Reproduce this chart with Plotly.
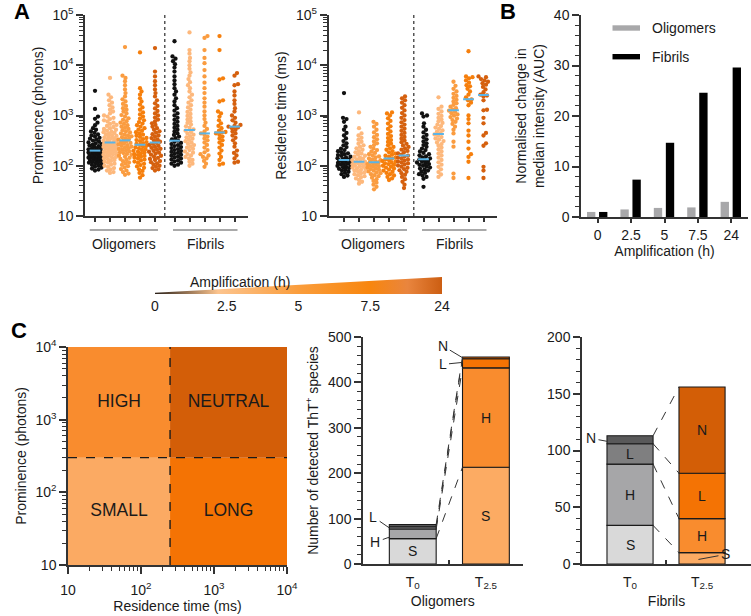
import numpy as np
import plotly.graph_objects as go

W, H = 751, 616
FONT = "Liberation Sans, Arial, sans-serif"

# ---------------- DATA ----------------
amp_labels = ["0", "2.5", "5", "7.5", "24"]
amp_colors = ["#111111", "#fdb87c", "#fa9c40", "#f67f0c", "#d5600e"]
group_names = ["Oligomers", "Fibrils"]

# Panel A, prominence (photons): oligomers 0..24 h, then fibrils 0..24 h
prom_o0 = [3100, 1350, 950, 860, 720, 640, 560, 520, 480, 450, 420, 400, 380, 360, 345, 330, 315, 300, 290, 280, 270, 260, 252, 245, 238, 230, 224, 218, 212, 206, 200, 196, 192, 188, 184, 180, 176, 172, 168, 164, 160, 156, 152, 148, 145, 142, 139, 136, 133, 130, 127, 124, 121, 118, 115, 112, 108, 104, 100, 96, 92, 88, 84, 80]
prom_o1 = [5600, 2600, 2300, 2000, 1800, 1600, 1450, 1300, 1200, 1100, 1000, 950, 900, 850, 800, 760, 720, 680, 650, 620, 590, 560, 540, 520, 500, 480, 465, 450, 435, 420, 405, 392, 380, 368, 356, 345, 335, 325, 315, 305, 297, 290, 283, 276, 269, 262, 255, 249, 243, 237, 231, 225, 220, 215, 210, 205, 200, 195, 190, 185, 180, 175, 170, 165, 160, 155, 150, 145, 140, 135, 130, 125, 120, 115, 110, 105, 100, 95, 90, 85, 80, 75, 72]
prom_o2 = [23000, 6200, 5600, 4800, 4000, 3300, 2800, 2400, 2100, 1900, 1700, 1550, 1400, 1300, 1200, 1100, 1020, 950, 880, 820, 770, 720, 680, 640, 600, 570, 540, 510, 485, 460, 440, 420, 400, 385, 370, 355, 342, 330, 318, 306, 295, 285, 275, 266, 257, 248, 240, 232, 224, 216, 208, 200, 193, 186, 179, 172, 165, 158, 151, 144, 137, 130, 123, 116, 110, 104, 98, 92, 86, 80, 75, 70, 66]
prom_o3 = [18000, 3500, 3000, 2600, 2200, 1900, 1650, 1450, 1300, 1150, 1050, 950, 870, 800, 740, 690, 640, 600, 560, 525, 495, 465, 440, 415, 395, 375, 357, 340, 325, 310, 296, 283, 271, 260, 250, 240, 231, 222, 214, 206, 198, 191, 184, 177, 170, 163, 157, 151, 145, 139, 133, 127, 121, 115, 109, 103, 97, 91, 85, 79, 72, 65, 58]
prom_o4 = [22000, 7500, 6000, 4800, 4000, 3300, 2800, 2400, 2000, 1750, 1550, 1380, 1230, 1100, 1000, 910, 830, 760, 700, 650, 600, 560, 520, 485, 455, 425, 400, 378, 356, 336, 318, 300, 285, 272, 260, 248, 237, 227, 217, 208, 199, 190, 182, 174, 166, 158, 151, 144, 137, 130, 124, 118, 112, 106, 100, 95, 90, 85, 80]
prom_f0 = [30000, 15000, 13500, 12000, 10500, 9000, 7500, 6000, 5000, 4200, 3500, 3000, 2600, 2200, 1900, 1600, 1400, 1250, 1100, 1000, 900, 820, 750, 680, 620, 570, 520, 480, 440, 410, 380, 355, 335, 315, 300, 285, 270, 258, 246, 235, 225, 215, 205, 196, 188, 180, 172, 165, 158, 151, 145, 139, 133, 127, 121, 115, 110, 105, 100]
prom_f1 = [45000, 20000, 17000, 14000, 12000, 10000, 8500, 7200, 6200, 5300, 4600, 4000, 3500, 3000, 2600, 2300, 2000, 1800, 1600, 1450, 1300, 1180, 1070, 980, 900, 830, 770, 710, 660, 610, 570, 530, 500, 470, 440, 415, 390, 368, 346, 326, 308, 290, 273, 258, 244, 230, 217, 205, 193, 182, 171, 160, 150, 140, 130, 120, 110, 100]
prom_f2 = [38000, 35000, 20000, 14000, 11000, 8000, 6000, 4500, 3500, 2800, 2200, 1800, 1500, 1200, 1000, 850, 720, 620, 540, 480, 440, 410, 380, 350, 320, 290, 260, 230, 205, 185, 170, 160, 150, 140, 125, 110, 95]
prom_f3 = [38000, 20000, 5500, 5200, 2000, 1900, 1200, 1100, 950, 800, 700, 620, 560, 500, 470, 460, 440, 410, 380, 350, 320, 290, 260, 230, 200, 175, 150, 130, 110, 105]
prom_f4 = [7000, 6200, 4200, 4000, 3000, 2500, 2000, 1700, 1400, 1200, 1000, 900, 800, 720, 650, 620, 600, 580, 560, 520, 480, 440, 400, 360, 320, 280, 240, 200, 180, 160, 140, 120, 115]
prom_medians = [200, 290, 320, 262, 290, 315, 515, 440, 460, 600]

# Panel A, residence time (ms)
res_o0 = [2800, 900, 850, 750, 600, 520, 450, 400, 350, 310, 280, 255, 235, 218, 205, 195, 185, 177, 170, 163, 157, 151, 146, 141, 136, 132, 128, 124, 120, 117, 114, 111, 108, 105, 102, 99, 96, 93, 90, 87, 84, 80, 76, 72, 68, 64, 60]
res_o1 = [1150, 560, 440, 400, 360, 330, 300, 275, 255, 237, 222, 208, 196, 185, 175, 166, 158, 151, 145, 139, 134, 129, 125, 121, 117, 113, 110, 107, 104, 101, 98, 95, 92, 89, 86, 83, 80, 77, 74, 71, 68, 65, 62, 59, 56, 52, 48, 44]
res_o2 = [750, 680, 600, 520, 460, 410, 370, 335, 305, 280, 258, 238, 220, 205, 192, 180, 170, 161, 153, 146, 140, 134, 129, 124, 120, 116, 112, 108, 104, 101, 98, 95, 92, 89, 86, 83, 80, 77, 74, 71, 68, 65, 62, 58, 54, 50, 46, 42, 38, 34]
res_o3 = [1150, 1100, 1000, 880, 780, 690, 610, 540, 480, 430, 390, 355, 325, 298, 275, 255, 237, 222, 208, 196, 185, 175, 166, 158, 151, 145, 139, 134, 129, 124, 120, 116, 112, 108, 104, 100, 96, 92, 88, 84, 80, 76, 72, 68, 64, 60, 56, 52]
res_o4 = [2400, 2200, 2000, 1800, 1600, 1420, 1260, 1120, 1000, 900, 810, 730, 660, 600, 545, 495, 450, 410, 375, 345, 318, 294, 273, 254, 237, 222, 209, 197, 186, 176, 167, 159, 152, 145, 139, 133, 127, 121, 116, 111, 106, 101, 96, 91, 86, 81, 76, 71, 66, 60, 54, 48, 42, 36]
res_f0 = [1100, 1000, 950, 700, 600, 520, 460, 410, 370, 335, 305, 280, 258, 238, 220, 205, 192, 180, 170, 161, 153, 146, 140, 134, 129, 124, 120, 116, 112, 108, 104, 100, 96, 92, 88, 84, 80, 76, 72, 68, 64, 60, 55, 38]
res_f1 = [2300, 1500, 1350, 1200, 1080, 980, 900, 830, 770, 710, 660, 615, 575, 540, 505, 475, 445, 420, 395, 372, 350, 330, 310, 290, 270, 250, 230, 210, 192, 175, 160, 145, 130, 117, 105, 95, 85, 75, 67, 60]
res_f2 = [4700, 3900, 3400, 3000, 2700, 2450, 2250, 2050, 1900, 1750, 1620, 1500, 1400, 1320, 1250, 1180, 1110, 1050, 990, 930, 870, 810, 750, 680, 600, 520, 440, 300, 240, 70, 57]
res_f3 = [19000, 6000, 5800, 5500, 5000, 4500, 4000, 3800, 3400, 3000, 2600, 2300, 2100, 2000, 1800, 1600, 1000, 850, 700, 500, 400, 300, 220, 170, 150, 120, 57]
res_f4 = [6000, 5800, 5300, 5000, 4700, 4400, 4100, 3700, 3300, 2900, 2600, 2500, 2400, 2000, 1300, 1270, 900, 700, 450, 400, 280, 250, 95, 80, 57]
res_medians = [130, 120, 118, 140, 160, 135, 430, 1270, 2100, 2570]

# Panel B
b_oligomers = [1.0, 1.5, 1.8, 1.9, 3.0]
b_fibrils = [1.0, 7.4, 14.7, 24.6, 29.6]

# Panel C (left): thresholds of the classification map
res_threshold = 250
prom_threshold = 300
quadrant_names = ["SMALL", "HIGH", "LONG", "NEUTRAL"]
quadrant_colors = ["#fbaa63", "#f98c2e", "#f47304", "#d35e08"]

# Panel C (middle/right): counts per class S, H, L, N
classes = ["S", "H", "L", "N"]
time_labels = ["T<sub>0</sub>", "T<sub>2.5</sub>"]
olig_t0 = [56, 21, 5, 5]
olig_t25 = [213, 219, 20, 4]
fib_t0 = [34, 54, 18, 7]
fib_t25 = [10, 30, 40, 76]
gray_colors = ["#d9d9d9", "#a6a6a8", "#7f7f80", "#59595a"]
orange_colors = ["#fcab63", "#f98c2e", "#f47304", "#d35e06"]

# ---------------- helpers ----------------
def xd(a, b):
    return [a / W, b / W]


def yd(top, bottom):
    return [1 - bottom / H, 1 - top / H]


def swarm(vals, px_per_x, px_per_dec, diam=3.4, maxhalf=6.5):
    vals = np.asarray(vals, float)
    ys = np.log10(vals) * px_per_dec
    order = np.argsort(ys)
    cands = [0.0]
    s = 0.5
    while s <= maxhalf + 1e-9:
        cands += [s, -s]
        s += 0.5
    px_list, py_list = [], []
    out = np.zeros(len(vals))
    for i in order:
        y = ys[i]
        pxa = np.array(px_list)
        pya = np.array(py_list)
        if len(pya):
            m = np.abs(pya - y) < diam
            nx, ny = pxa[m], pya[m]
        else:
            nx, ny = np.array([]), np.array([])
        chosen, bestd, bestc = None, -1, 0.0
        for c in cands:
            if len(nx) == 0:
                chosen = c
                break
            d = np.min(np.hypot(nx - c, ny - y))
            if d >= diam:
                chosen = c
                break
            if d > bestd:
                bestd, bestc = d, c
        if chosen is None:
            chosen = bestc
        out[i] = chosen
        px_list.append(chosen)
        py_list.append(y)
    return out / px_per_x


fig = go.Figure()

positions = [0, 1, 2, 3, 4, 5.3, 6.3, 7.3, 8.3, 9.3]
prom_groups = [prom_o0, prom_o1, prom_o2, prom_o3, prom_o4, prom_f0, prom_f1, prom_f2, prom_f3, prom_f4]
res_groups = [res_o0, res_o1, res_o2, res_o3, res_o4, res_f0, res_f1, res_f2, res_f3, res_f4]

for groups, medians, xa, ya in [(prom_groups, prom_medians, "x", "y"), (res_groups, res_medians, "x2", "y2")]:
    for gi, vals in enumerate(groups):
        off = swarm(vals, 15.0, 50.25)
        fig.add_trace(go.Scatter(x=positions[gi] + off, y=vals, mode="markers",
                                 marker=dict(size=4.3, color=amp_colors[gi % 5], line=dict(width=0)),
                                 xaxis=xa, yaxis=ya, showlegend=False, hoverinfo="skip"))
    mx, my = [], []
    for gi, m in enumerate(medians):
        mx += [positions[gi] - 0.36, positions[gi] + 0.36, None]
        my += [m, m, None]
    fig.add_trace(go.Scatter(x=mx, y=my, mode="lines", line=dict(color="#5bb4e6", width=2),
                             xaxis=xa, yaxis=ya, showlegend=False, hoverinfo="skip"))

# Panel B bars
fig.add_trace(go.Bar(x=amp_labels, y=b_oligomers, name="Oligomers", marker=dict(color="#a8a8aa", line=dict(width=0)),
                     offset=-0.32, width=0.25, xaxis="x3", yaxis="y3", showlegend=False))
fig.add_trace(go.Bar(x=amp_labels, y=b_fibrils, name="Fibrils", marker=dict(color="#000000", line=dict(width=0)),
                     offset=0.04, width=0.25, xaxis="x3", yaxis="y3", showlegend=False))

# Panel C left: quadrants
xlo, xhi, ylo, yhi = 10, 1e4, 10, 1e4
quads = [
    (xlo, res_threshold, ylo, prom_threshold),
    (xlo, res_threshold, prom_threshold, yhi),
    (res_threshold, xhi, ylo, prom_threshold),
    (res_threshold, xhi, prom_threshold, yhi),
]
for (x0, x1, y0, y1), col, name in zip(quads, quadrant_colors, quadrant_names):
    fig.add_trace(go.Scatter(x=[x0, x1, x1, x0, x0], y=[y0, y0, y1, y1, y0], fill="toself", fillcolor=col,
                             mode="lines", line=dict(width=0, color=col), xaxis="x4", yaxis="y4",
                             showlegend=False, hoverinfo="skip"))
    fig.add_trace(go.Scatter(x=[np.sqrt(x0 * x1)], y=[np.sqrt(y0 * y1)], mode="text", text=[name],
                             textfont=dict(size=17.5, color="#1a1a1a", family=FONT), xaxis="x4", yaxis="y4",
                             showlegend=False, hoverinfo="skip"))
fig.add_trace(go.Scatter(x=[res_threshold, res_threshold], y=[ylo, yhi], mode="lines",
                         line=dict(color="#1a1a1a", width=1.4, dash="dash"), xaxis="x4", yaxis="y4", showlegend=False))
fig.add_trace(go.Scatter(x=[xlo, xhi], y=[prom_threshold, prom_threshold], mode="lines",
                         line=dict(color="#1a1a1a", width=1.4, dash="dash"), xaxis="x4", yaxis="y4", showlegend=False))

# Panel C stacked bars
BW = 0.64
annotations = []
for t0, t25, xa, ya in [(olig_t0, olig_t25, "x5", "y5"), (fib_t0, fib_t25, "x6", "y6")]:
    c0 = np.concatenate([[0], np.cumsum(t0)])
    c1 = np.concatenate([[0], np.cumsum(t25)])
    for ci in range(4):
        fig.add_trace(go.Bar(x=[0, 1], y=[t0[ci], t25[ci]], base=[c0[ci], c1[ci]], width=BW,
                             marker=dict(color=[gray_colors[ci], orange_colors[ci]], line=dict(color="#1a1a1a", width=1.1)),
                             xaxis=xa, yaxis=ya, showlegend=False, hoverinfo="skip"))
    for ci in range(4):
        fig.add_trace(go.Scatter(x=[BW / 2, 1 - BW / 2], y=[c0[ci + 1], c1[ci + 1]], mode="lines",
                                 line=dict(color="#333333", width=1, dash="dash"), xaxis=xa, yaxis=ya,
                                 showlegend=False, hoverinfo="skip"))


def seg_mid(vals, ci):
    c = np.concatenate([[0], np.cumsum(vals)])
    return (c[ci] + c[ci + 1]) / 2


lab_font = dict(size=14, color="#1a1a1a", family=FONT)
for xa, ya, series_list, inside in [
    ("x5", "y5", [olig_t0, olig_t25], [(0, 0), (0, 1), (1, 1)]),
    ("x6", "y6", [fib_t0, fib_t25], [(0, 0), (1, 0), (2, 0), (1, 1), (2, 1), (3, 1)]),
]:
    for ci, bi in inside:
        annotations.append(dict(x=bi, y=seg_mid(series_list[bi], ci), xref=xa, yref=ya, text=classes[ci],
                                showarrow=False, font=lab_font))


def cum(vals, ci, frac):
    c = np.concatenate([[0], np.cumsum(vals)])
    return c[ci] + frac * (c[ci + 1] - c[ci])


out_labels = [
    ("x5", "y5", -BW / 2, cum(olig_t0, 1, 0.15), 1, -14, 5),
    ("x5", "y5", -BW / 2, cum(olig_t0, 2, 0.5), 2, -16, -11),
    ("x5", "y5", 1 - BW / 2, cum(olig_t25, 3, 0.6), 3, -20, -12),
    ("x5", "y5", 1 - BW / 2, cum(olig_t25, 2, 0.6), 2, -20, 2),
    ("x6", "y6", -BW / 2, cum(fib_t0, 3, 0.3), 3, -16, -3),
    ("x6", "y6", 1 - 0.05, cum(fib_t25, 0, 0.4), 0, 27, -5),
]
for xa, ya, x, y, ci, ax, ay in out_labels:
    annotations.append(dict(x=x, y=y, xref=xa, yref=ya, text=classes[ci], showarrow=True, arrowhead=0,
                            arrowwidth=1, arrowcolor="#333333", ax=ax, ay=ay, standoff=0, startstandoff=1,
                            font=lab_font))

# Amplification wedge (colour key)
n_amp = len(amp_labels)
fig.add_trace(go.Scatter(x=[0, n_amp - 1, n_amp - 1, 0, 0], y=[0, 0, 1, 0.07, 0], mode="lines", fill="toself",
                         fillgradient=dict(type="horizontal",
                                           colorscale=[[0, "#2a2018"], [0.22, "#fcc48e"], [0.5, "#fa9d3c"],
                                                       [0.75, "#f8860e"], [0.88, "#e9853e"], [1, "#cc5e12"]]),
                         line=dict(width=0), xaxis="x7", yaxis="y7", showlegend=False, hoverinfo="skip"))

# ---------------- axes ----------------
base = dict(showline=True, linecolor="#333333", linewidth=1.5, ticks="outside", tickcolor="#333333", tickwidth=1.5,
            showgrid=False, zeroline=False, automargin=False,
            tickfont=dict(size=14, color="#1a1a1a", family=FONT))
tfont = dict(size=14, color="#1a1a1a", family=FONT)


def log_minor(lo, hi):
    return [k * 10 ** e for e in range(lo, hi) for k in range(2, 10)]


def pow_text(exps):
    return ["10" if e == 1 else "10<sup>%d</sup>" % e for e in exps]


minor_style = dict(ticks="outside", ticklen=4, tickwidth=1, tickcolor="#333333", showgrid=False)

layout_axes = {}
layout_axes["xaxis"] = dict(base, domain=xd(85, 248), range=[-0.667, 10.2], anchor="y", tickvals=positions,
                            ticklen=4, showticklabels=False)
layout_axes["yaxis"] = dict(base, domain=yd(15, 216), type="log", range=[1, 5], anchor="x",
                            tickvals=[10, 1e2, 1e3, 1e4, 1e5], ticktext=pow_text([1, 2, 3, 4, 5]), ticklen=7,
                            minor=dict(minor_style, tickvals=log_minor(1, 5)),
                            title=dict(text="Prominence (photons)", font=tfont, standoff=6))
layout_axes["xaxis2"] = dict(base, domain=xd(328.5, 497), range=[-1.033, 10.2], anchor="y2", tickvals=positions,
                             ticklen=4, showticklabels=False)
layout_axes["yaxis2"] = dict(base, domain=yd(15, 216), type="log", range=[1, 5], anchor="x2",
                             tickvals=[10, 1e2, 1e3, 1e4, 1e5], ticktext=pow_text([1, 2, 3, 4, 5]), ticklen=7,
                             minor=dict(minor_style, tickvals=log_minor(1, 5)),
                             title=dict(text="Residence time (ms)", font=tfont, standoff=6))
layout_axes["xaxis3"] = dict(base, domain=xd(581, 748), type="category", range=[-0.5, 4.5], anchor="y3",
                             ticklen=4, title=dict(text="Amplification (h)", font=tfont, standoff=3))
layout_axes["yaxis3"] = dict(base, domain=yd(15, 217), range=[0, 40], anchor="x3", tickvals=[0, 10, 20, 30, 40],
                             ticklen=7, minor=dict(minor_style, dtick=2),
                             title=dict(text="Normalised change in<br>median intensity (AUC)", font=tfont, standoff=6))
layout_axes["xaxis4"] = dict(base, domain=xd(68, 287), type="log", range=[1, 4], anchor="y4",
                             tickvals=[10, 1e2, 1e3, 1e4], ticktext=pow_text([1, 2, 3, 4]), ticklen=7,
                             ticklabelstandoff=4, minor=dict(minor_style, tickvals=log_minor(1, 4)),
                             title=dict(text="Residence time (ms)", font=tfont, standoff=4))
layout_axes["yaxis4"] = dict(base, domain=yd(347, 565), type="log", range=[1, 4], anchor="x4",
                             tickvals=[10, 1e2, 1e3, 1e4], ticktext=pow_text([1, 2, 3, 4]), ticklen=7,
                             minor=dict(minor_style, tickvals=log_minor(1, 4)),
                             title=dict(text="Prominence (photons)", font=tfont, standoff=6))
layout_axes["xaxis5"] = dict(base, domain=xd(363, 522.5), range=[-0.68, 1.5], anchor="y5", tickvals=[0, 1],
                             ticktext=time_labels, ticks="", ticklabelstandoff=4,
                             minor=dict(ticks="inside", ticklen=4, tickwidth=1.5, tickcolor="#333333",
                                        tickvals=[0.5], showgrid=False),
                             title=dict(text=group_names[0], font=tfont, standoff=6))
layout_axes["yaxis5"] = dict(base, domain=yd(337, 564), range=[0, 500], anchor="x5",
                             tickvals=[0, 100, 200, 300, 400, 500], ticklen=7,
                             minor=dict(minor_style, dtick=20),
                             title=dict(text="Number of detected ThT<sup>+</sup> species", font=tfont, standoff=6))
layout_axes["xaxis6"] = dict(base, domain=xd(582, 751), range=[-0.667, 1.68], anchor="y6", tickvals=[0, 1],
                             ticktext=time_labels, ticks="", ticklabelstandoff=4,
                             minor=dict(ticks="inside", ticklen=4, tickwidth=1.5, tickcolor="#333333",
                                        tickvals=[0.5], showgrid=False),
                             title=dict(text=group_names[1], font=tfont, standoff=6))
layout_axes["yaxis6"] = dict(base, domain=yd(337, 564), range=[0, 200], anchor="x6",
                             tickvals=[0, 50, 100, 150, 200], ticklen=7,
                             minor=dict(minor_style, dtick=10))
layout_axes["xaxis7"] = dict(domain=xd(155, 442), range=[0, n_amp - 1], anchor="y7", tickvals=list(range(n_amp)),
                             ticktext=amp_labels, showline=False, showgrid=False, zeroline=False, ticks="",
                             automargin=False, tickfont=dict(size=14, color="#1a1a1a", family=FONT),
                             ticklabelstandoff=2)
layout_axes["yaxis7"] = dict(domain=yd(277, 294), range=[0, 1], anchor="x7", visible=False, automargin=False)

# ---------------- decorations ----------------
shapes = []
for xa in ["x", "x2"]:
    shapes.append(dict(type="line", xref=xa, yref=xa.replace("x", "y") + " domain", x0=4.65, x1=4.65, y0=0, y1=1,
                       line=dict(color="#555555", width=1.5, dash="dot")))
    for (a, b), name in zip([(-0.35, 4.2), (5.2, 9.5)], group_names):
        shapes.append(dict(type="line", xref=xa, yref="paper", x0=a, x1=b, y0=1 - 230 / H, y1=1 - 230 / H,
                           line=dict(color="#8c8c8c", width=1.5)))
        annotations.append(dict(x=(a + b) / 2, y=1 - 244 / H, xref=xa, yref="paper", text=name, showarrow=False,
                                font=tfont, yanchor="middle"))

# legend of panel B (drawn manually)
for ypix, col, name in [(28, "#a8a8aa", "Oligomers"), (56.7, "#000000", "Fibrils")]:
    shapes.append(dict(type="rect", xref="paper", yref="paper", x0=612.5 / W, x1=640 / W, y0=1 - (ypix + 2.7) / H,
                       y1=1 - (ypix - 2.7) / H, fillcolor=col, line=dict(width=0)))
    annotations.append(dict(x=650 / W, y=1 - ypix / H, xref="paper", yref="paper", text=name, showarrow=False,
                            xanchor="left", yanchor="middle", font=tfont))

annotations.append(dict(x=188 / W, y=1 - 282 / H, xref="paper", yref="paper", text="Amplification (h)",
                        showarrow=False, font=tfont, yanchor="middle"))
for letter, xp, ypix in [("A", 12, 12), ("B", 518, 11), ("C", 9, 330)]:
    annotations.append(dict(x=xp / W, y=1 - ypix / H, xref="paper", yref="paper", text="<b>%s</b>" % letter,
                            showarrow=False, font=dict(size=22, color="#000000", family=FONT), yanchor="middle"))

fig.update_layout(width=W, height=H, margin=dict(l=0, r=0, t=0, b=0, pad=0, autoexpand=False),
                  plot_bgcolor="white", paper_bgcolor="white",
                  barmode="overlay", showlegend=False, font=dict(family=FONT, size=14, color="#1a1a1a"),
                  shapes=shapes, annotations=annotations, **layout_axes)

fig.write_html("out.html", config={"displayModeBar": False},
               post_script="document.body.style.margin='0px';document.body.style.padding='0px';")
